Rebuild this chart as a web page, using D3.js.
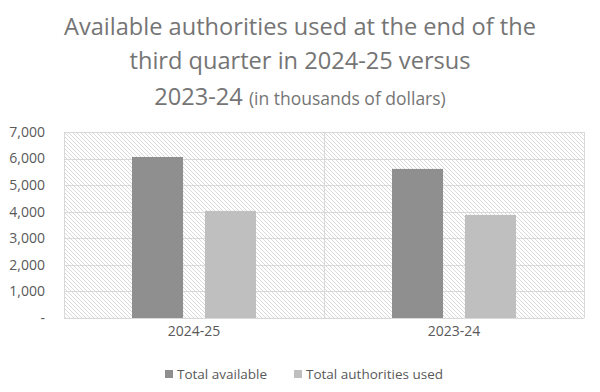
<!DOCTYPE html>
<html>
<head>
<meta charset="utf-8">
<script src="https://cdn.jsdelivr.net/npm/d3@7"></script>
<style>
  body { margin: 0; background: #fff; }
  svg { display: block; }
  text { font-family: "Open Sans", "Liberation Sans", sans-serif; }
</style>
</head>
<body>
<svg id="chart"></svg>
<script>
const years = ["2024-25", "2023-24"];
const seriesNames = ["Total available", "Total authorities used"];
const totalAvailable = [6060, 5610];
const authoritiesUsed = [4030, 3880];
const yTicks = [0, 1000, 2000, 3000, 4000, 5000, 6000, 7000];

const width = 600;
const height = 392;
const margin = { top: 132, right: 16, bottom: 74, left: 64 };
const colors = ["#8f8f8f", "#bfbfbf"];

const svg = d3.select("#chart")
  .attr("width", width)
  .attr("height", height);

// diagonal hatch for the plot area
const defs = svg.append("defs");
const pat = defs.append("pattern")
  .attr("id", "hatch")
  .attr("patternUnits", "userSpaceOnUse")
  .attr("width", 4)
  .attr("height", 4);
pat.append("rect").attr("width", 4).attr("height", 4).attr("fill", "#fff");
pat.append("path")
  .attr("d", "M-1,-1 L5,5 M-1,3 L1,5 M3,-1 L5,1")
  .attr("stroke", "#dadada")
  .attr("stroke-width", 1);

const x0 = d3.scaleBand()
  .domain(years)
  .range([margin.left, width - margin.right]);

const x1 = d3.scaleBand()
  .domain(seriesNames)
  .range([68, x0.bandwidth() - 68])
  .paddingInner(0.3);

const y = d3.scaleLinear()
  .domain([0, 7000])
  .range([height - margin.bottom, margin.top]);

// plot background
svg.append("rect")
  .attr("x", margin.left)
  .attr("y", margin.top)
  .attr("width", width - margin.left - margin.right)
  .attr("height", height - margin.top - margin.bottom)
  .attr("fill", "url(#hatch)");

// gridlines
svg.append("g")
  .selectAll("line")
  .data(yTicks)
  .enter().append("line")
  .attr("x1", margin.left)
  .attr("x2", width - margin.right)
  .attr("y1", d => Math.round(y(d)) + 0.5)
  .attr("y2", d => Math.round(y(d)) + 0.5)
  .attr("stroke", "#d9d9d9")
  .attr("stroke-width", 1);

// vertical category borders
svg.append("g")
  .selectAll("line")
  .data([x0.range()[0], x0(years[1]), x0.range()[1]])
  .enter().append("line")
  .attr("x1", d => Math.round(d) + 0.5)
  .attr("x2", d => Math.round(d) + 0.5)
  .attr("y1", margin.top)
  .attr("y2", height - margin.bottom)
  .attr("stroke", "#d9d9d9");

// bars
const rows = years.map((yr, i) => ({ year: yr, values: [totalAvailable[i], authoritiesUsed[i]] }));
svg.append("g")
  .selectAll("g")
  .data(rows)
  .enter().append("g")
  .attr("transform", d => `translate(${x0(d.year)},0)`)
  .selectAll("rect")
  .data(d => d.values.map((v, j) => ({ key: seriesNames[j], value: v, j })))
  .enter().append("rect")
  .attr("x", d => x1(d.key))
  .attr("width", x1.bandwidth())
  .attr("y", d => y(d.value))
  .attr("height", d => y(0) - y(d.value))
  .attr("fill", d => colors[d.j]);

// y axis labels
svg.append("g")
  .selectAll("text")
  .data(yTicks)
  .enter().append("text")
  .attr("x", 45)
  .attr("y", d => y(d))
  .attr("dy", "0.35em")
  .attr("text-anchor", "end")
  .attr("font-size", "14px")
  .attr("fill", "#595959")
  .text(d => d === 0 ? "-" : d3.format(",")(d));

// x axis labels
svg.append("g")
  .selectAll("text")
  .data(years)
  .enter().append("text")
  .attr("x", d => x0(d) + x0.bandwidth() / 2)
  .attr("y", 336)
  .attr("text-anchor", "middle")
  .attr("font-size", "14px")
  .attr("fill", "#595959")
  .text(d => d);

// legend
const legendX = [165, 294];
const legend = svg.append("g")
  .selectAll("g")
  .data(seriesNames)
  .enter().append("g")
  .attr("transform", (d, i) => `translate(${legendX[i]},374)`);
legend.append("rect")
  .attr("x", 0)
  .attr("y", -4)
  .attr("width", 8)
  .attr("height", 8)
  .attr("fill", (d, i) => colors[i]);
legend.append("text")
  .attr("x", 12)
  .attr("dy", "0.35em")
  .attr("font-size", "13.5px")
  .attr("fill", "#595959")
  .text(d => d);

// title
const title = svg.append("text")
  .attr("text-anchor", "middle")
  .attr("fill", "#757575")
  .attr("font-size", "23.6px");
title.append("tspan").attr("x", 300).attr("y", 35)
  .text("Available authorities used at the end of the");
title.append("tspan").attr("x", 300).attr("y", 69)
  .text("third quarter in 2024-25 versus");
const l3 = title.append("tspan").attr("x", 300).attr("y", 105);
l3.append("tspan").text("2023-24 ");
l3.append("tspan").attr("font-size", "17.5px").text("(in thousands of dollars)");
</script>
</body>
</html>
